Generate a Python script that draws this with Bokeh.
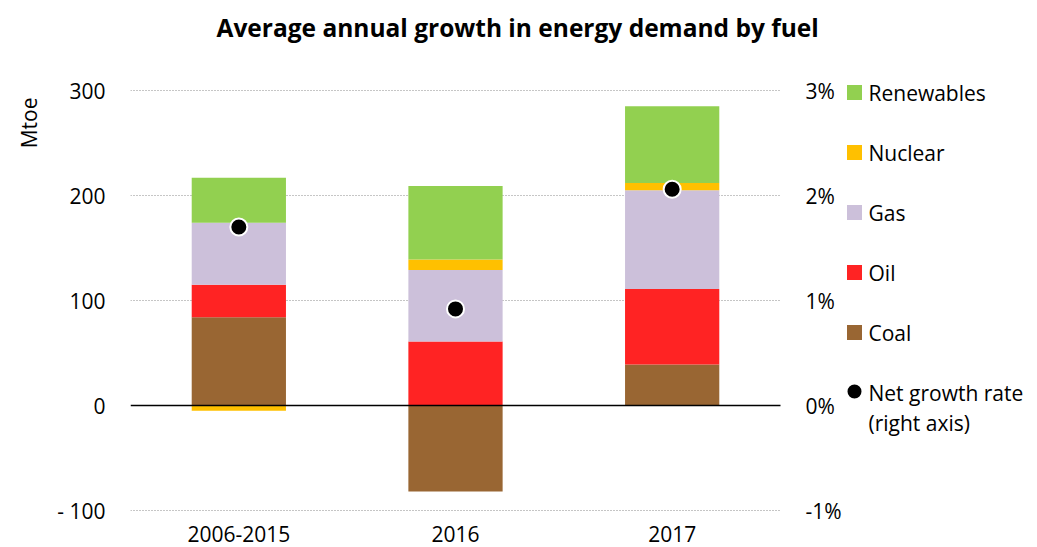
import numpy as np
from bokeh.plotting import figure
from bokeh.models import Range1d, FixedTicker, Title, ColumnDataSource
from bokeh.core.properties import value
from bokeh.embed import file_html
from bokeh.resources import INLINE

categories = ["2006-2015", "2016", "2017"]
coal = [84, -82, 39]
oil = [31, 61, 72]
gas = [59, 68, 94]
nuclear = [-5, 10, 7]
renewables = [43, 70, 73]
net_growth_pct = [1.7, 0.92, 2.06]

left_ticks = [-100, 0, 100, 200, 300]
left_labels = ["- 100", "0", "100", "200", "300"]
right_ticks = [-1, 0, 1, 2, 3]
right_labels = ["-1%", "0%", "1%", "2%", "3%"]
grid_ticks = [-100, 100, 200, 300]

series = [("Coal", coal, "#996633"), ("Oil", oil, "#FF2323"), ("Gas", gas, "#CCC0DA"),
          ("Nuclear", nuclear, "#FFC000"), ("Renewables", renewables, "#92D050")]
legend_order = ["Renewables", "Nuclear", "Gas", "Oil", "Coal"]
colors = {n: c for n, _, c in series}

FONT = "Open Sans"
FS = "21px"

# ---- layout geometry (pixels) ----
W, H = 1035, 547
FL, FT, FB = 130, 50, 547          # frame left/top/bottom
FR = W - 5                          # frame right (legend lives inside the frame)
PLOT_W = 650                        # width of the bar area
PX_TOP, PX_BOT = 90, 510            # pixel rows of the 300 and -100 gridlines
px_per_cat = PLOT_W / len(categories)
x_end = (FR - FL) / px_per_cat
px_per_unit = (PX_BOT - PX_TOP) / 400.0
y1 = 300 + (PX_TOP - FT) / px_per_unit
y0 = -100 - (FB - PX_BOT) / px_per_unit

def px_to_y(py):
    return y1 - (py - FT) / px_per_unit

def px_to_x(px):
    return (px - FL) / px_per_cat

p = figure(width=W, height=H, x_range=Range1d(0, x_end), y_range=Range1d(y0, y1),
           output_backend="svg", toolbar_location=None,
           min_border_left=FL, min_border_right=W - FR, min_border_top=FT,
           min_border_bottom=H - FB)
p.outline_line_color = None
p.extra_y_ranges = {"pct": Range1d(y0 / 100, y1 / 100)}
p.xgrid.grid_line_color = None
p.ygrid.grid_line_color = None
p.xaxis.visible = False

ncat = len(categories)
xc = np.arange(ncat) + 0.5

# grid lines limited to the bar area
p.segment(x0=[0] * len(grid_ticks), x1=[ncat] * len(grid_ticks), y0=grid_ticks, y1=grid_ticks,
          line_color="#8c8c8c", line_dash="1 2", line_width=1.2, level="underlay")

# stacked bars (positives up, negatives down)
pos_base = np.zeros(ncat)
neg_base = np.zeros(ncat)
for name, vals, color in series:
    v = np.array(vals, dtype=float)
    bottoms = np.where(v >= 0, pos_base, neg_base)
    tops = bottoms + v
    pos_base = np.where(v >= 0, tops, pos_base)
    neg_base = np.where(v < 0, tops, neg_base)
    src = ColumnDataSource(dict(x=xc, bottom=bottoms, top=tops))
    p.vbar(x="x", bottom="bottom", top="top", width=0.435, source=src,
           fill_color=color, line_color=None)

# zero line
p.segment(x0=[0], x1=[ncat], y0=[0], y1=[0], line_color="black", line_width=1.5)

# net growth dots on right axis scale
p.scatter(x=xc, y=net_growth_pct, y_range_name="pct", size=17,
          fill_color="black", line_color="white", line_width=2)

# left axis
ax = p.yaxis[0]
ax.ticker = FixedTicker(ticks=left_ticks)
ax.major_label_overrides = dict(zip(left_ticks, left_labels))
ax.axis_line_color = None
ax.major_tick_line_color = None
ax.minor_tick_line_color = None
ax.major_tick_in = 0
ax.major_tick_out = 0
ax.major_label_standoff = 25
ax.major_label_text_font = FONT
ax.major_label_text_font_size = FS
ax.major_label_text_color = "black"

# category labels under the bars
p.text(x=xc, y=[px_to_y(533)] * ncat, text=categories, text_font=value(FONT),
       text_font_size=value(FS), text_align="center", text_baseline="middle",
       text_color="black")

# right axis labels (drawn as text beside the bar area)
p.text(x=[px_to_x(FL + PLOT_W + 25)] * len(right_ticks), y=right_ticks, text=right_labels,
       y_range_name="pct", text_font=value(FONT), text_font_size=value(FS),
       text_align="left", text_baseline="middle", text_color="black")

# legend (drawn manually)
leg_x_px = 854
leg_y_px = [92, 152, 212, 272, 332]
p.scatter(x=[px_to_x(leg_x_px)] * len(legend_order), y=[px_to_y(v) for v in leg_y_px],
          marker="square", size=15, fill_color=[colors[n] for n in legend_order],
          line_color=None)
p.text(x=[px_to_x(868)] * len(legend_order), y=[px_to_y(v) for v in leg_y_px],
       text=legend_order, text_font=value(FONT), text_font_size=value(FS),
       text_align="left", text_baseline="middle", text_color="black")
p.scatter(x=[px_to_x(leg_x_px)], y=[px_to_y(391)], size=14, fill_color="black",
          line_color=None)
p.text(x=[px_to_x(868)] * 2, y=[px_to_y(392), px_to_y(422)],
       text=["Net growth rate", "(right axis)"], text_font=value(FONT),
       text_font_size=value(FS), text_align="left", text_baseline="middle",
       text_color="black")

# titles
p.title.text = "Average annual growth in energy demand by fuel"
p.title.text_font = FONT
p.title.text_font_size = "24.5px"
p.title.text_font_style = "bold"
p.title.text_color = "black"
p.title.align = "left"
p.title.offset = 86
p.title.standoff = 14

p.add_layout(Title(text="Mtoe", align="right", offset=47, standoff=24, text_font=FONT,
                   text_font_size=FS, text_font_style="normal", text_color="black"), "left")

open("out.html", "w").write(file_html(p, INLINE))
